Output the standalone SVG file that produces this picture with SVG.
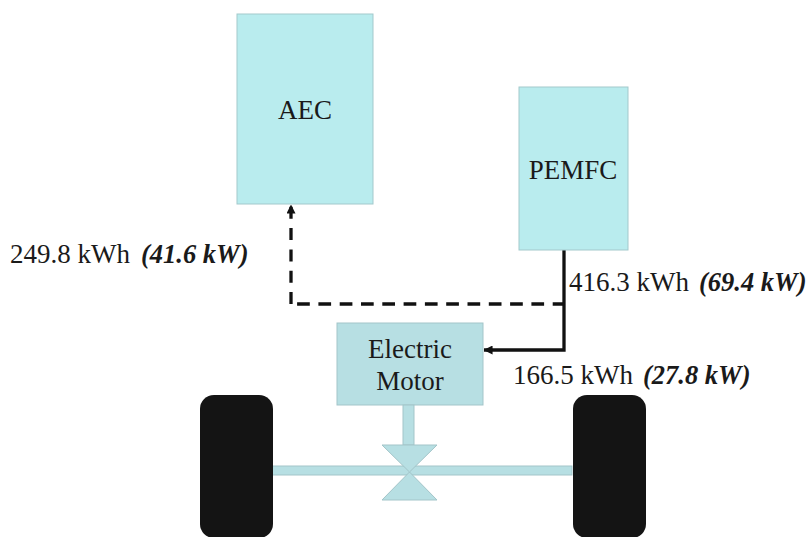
<svg xmlns="http://www.w3.org/2000/svg" width="807" height="537" viewBox="0 0 807 537">
<defs><marker id="arrow" viewBox="0 0 10 10" refX="9.5" refY="5" markerWidth="9" markerHeight="9" markerUnits="userSpaceOnUse" orient="auto"><path d="M0 0L10 5L0 10Z" fill="#111"/></marker></defs>
<style>
.t{font-family:"Liberation Serif","Times New Roman",serif;fill:#1a1a1a}
.l{font-size:27px}
.n{font-size:27px;text-anchor:middle}
.b{font-weight:bold;font-style:italic;font-size:26.5px}
.box{fill:#b9ecee;stroke:#a3c9cc;stroke-width:1}
.part{fill:#b7dfe3;stroke:#a3c5c9;stroke-width:1}
.w{fill:#141414}
.c{fill:none;stroke:#111;stroke-width:3.3}
</style>
<rect width="807" height="537" fill="#fff"/>
<g id="connectors">
<path class="c" d="M564 250V350H484" marker-end="url(#arrow)"/>
<path class="c" d="M564 304H297" stroke-dasharray="12.7 8.6" stroke-dashoffset="1.4"/>
<path class="c" d="M291 304V205" stroke-dasharray="12 9.3" marker-end="url(#arrow)"/>
</g>
<g id="aec"><rect class="box" x="237" y="14" width="136" height="190"/><text class="t n" x="305" y="119">AEC</text></g>
<g id="pemfc"><rect class="box" x="519" y="87" width="109" height="163"/><text class="t n" x="573" y="179">PEMFC</text></g>
<g id="motor"><rect class="part" x="337" y="323" width="146" height="82"/><text class="t n" x="410" y="358">Electric</text><text class="t n" x="410" y="390">Motor</text></g>
<g id="drivetrain">
<rect class="part" x="403" y="405" width="11" height="40"/>
<rect class="part" x="272" y="466" width="300" height="9"/>
<path class="part" d="M382 445H437L409.500 472L437 500H382L409.500 472Z"/>
</g>
<g id="wheel-left"><rect class="w" x="200" y="395" width="73" height="143" rx="14"/></g>
<g id="wheel-right"><rect class="w" x="573" y="395" width="73" height="143" rx="14"/></g>
<g id="labels">
<text class="t l" x="10" y="263">249.8 kWh <tspan class="b" x="141">(41.6 kW)</tspan></text>
<text class="t l" x="569" y="291">416.3 kWh <tspan class="b" x="699">(69.4 kW)</tspan></text>
<text class="t l" x="513" y="384">166.5 kWh <tspan class="b" x="643">(27.8 kW)</tspan></text>
</g>
</svg>
